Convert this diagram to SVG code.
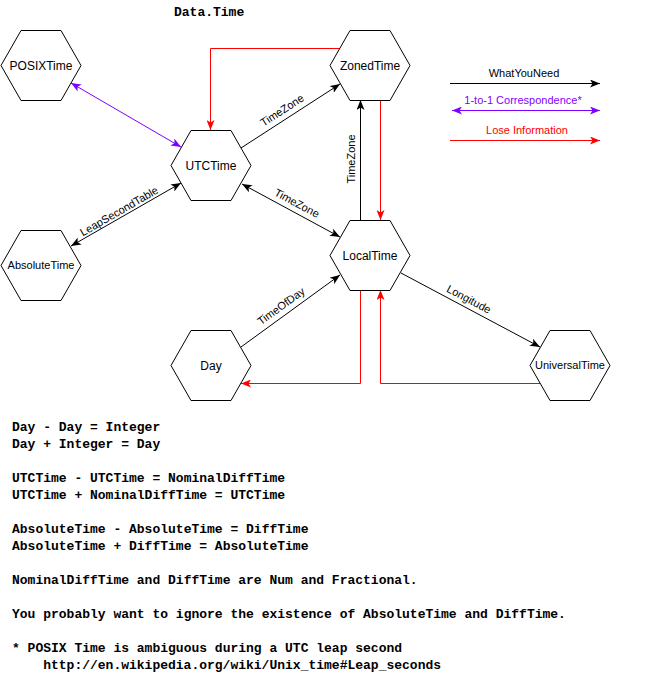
<svg xmlns="http://www.w3.org/2000/svg" xmlns:xlink="http://www.w3.org/1999/xlink" width="652" height="684" viewBox="0 0 652 684">
<style>
.hex{fill:#fff;stroke:#000;stroke-width:1}
.lbl{font-family:"Liberation Sans",Arial,sans-serif;font-size:12px;text-anchor:middle;fill:#000}
.lbls{font-family:"Liberation Sans",Arial,sans-serif;font-size:11px;text-anchor:middle;fill:#000}
.el{font-family:"Liberation Sans",Arial,sans-serif;font-size:11px;text-anchor:middle;fill:#000}
.k{fill:none;stroke:#000;stroke-width:1}
.p{fill:none;stroke:#7F00FF;stroke-width:1}
.r{fill:none;stroke:#FF0000;stroke-width:1}
.mono{font-family:"Liberation Mono","Courier New",monospace;font-size:13px;font-weight:bold;fill:#000}
</style>
<defs>
<polygon id="hexshape" points="0,35 20,0 60,0 80,35 60,70 20,70"/>
<marker id="ak" viewBox="0 0 10 8" refX="10" refY="4" markerWidth="10" markerHeight="8" markerUnits="userSpaceOnUse" orient="auto-start-reverse"><path d="M0,0 L10,4 L0,8 L2.5,4 Z" fill="#000"/></marker>
<marker id="ap" viewBox="0 0 10 8" refX="10" refY="4" markerWidth="10" markerHeight="8" markerUnits="userSpaceOnUse" orient="auto-start-reverse"><path d="M0,0 L10,4 L0,8 L2.5,4 Z" fill="#7F00FF"/></marker>
<marker id="ar" viewBox="0 0 10 8" refX="10" refY="4" markerWidth="10" markerHeight="8" markerUnits="userSpaceOnUse" orient="auto-start-reverse"><path d="M0,0 L10,4 L0,8 L2.5,4 Z" fill="#FF0000"/></marker>
</defs>
<rect width="652" height="684" fill="#fff"/>
<text class="mono" x="174" y="16">Data.Time</text>

<g id="connectors">
<line class="p" x1="71" y1="83" x2="181" y2="147" marker-start="url(#ap)" marker-end="url(#ap)"/>
<line class="k" x1="241" y1="148" x2="340" y2="84" marker-end="url(#ak)"/>
<path class="r" d="M340,48.5 H210.5 V130" marker-end="url(#ar)"/>
<line class="k" x1="360.5" y1="220" x2="360.5" y2="100" marker-end="url(#ak)"/>
<line class="r" x1="380.5" y1="100" x2="380.5" y2="220" marker-end="url(#ar)"/>
<line class="k" x1="242" y1="184" x2="340" y2="237" marker-start="url(#ak)" marker-end="url(#ak)"/>
<line class="k" x1="71" y1="246" x2="181" y2="183" marker-start="url(#ak)" marker-end="url(#ak)"/>
<line class="k" x1="241" y1="347" x2="340" y2="275" marker-end="url(#ak)"/>
<line class="k" x1="401" y1="273" x2="540" y2="347" marker-end="url(#ak)"/>
<path class="r" d="M360.5,290 V383.5 H241" marker-end="url(#ar)"/>
<path class="r" d="M540,383.5 H380.5 V290" marker-end="url(#ar)"/>
<text class="el" transform="translate(282,110) rotate(-33)" y="4">TimeZone</text>
<text class="el" transform="translate(351,159) rotate(-90)" y="4">TimeZone</text>
<text class="el" transform="translate(297,203) rotate(28)" y="4">TimeZone</text>
<text class="el" transform="translate(119,211) rotate(-30)" y="4">LeapSecondTable</text>
<text class="el" transform="translate(281,306) rotate(-36)" y="4">TimeOfDay</text>
<text class="el" transform="translate(469,299) rotate(28)" y="4">Longitude</text>
</g>

<g id="POSIXTime"><use xlink:href="#hexshape" class="hex" x="1" y="30.5"/><text class="lbl" x="41" y="69.5">POSIXTime</text></g>
<g id="ZonedTime"><use xlink:href="#hexshape" class="hex" x="330" y="30.5"/><text class="lbl" x="370" y="69.5">ZonedTime</text></g>
<g id="UTCTime"><use xlink:href="#hexshape" class="hex" x="171" y="130.5"/><text class="lbl" x="211" y="169.5">UTCTime</text></g>
<g id="AbsoluteTime"><use xlink:href="#hexshape" class="hex" x="1" y="230.5"/><text class="lbls" x="41" y="269">AbsoluteTime</text></g>
<g id="LocalTime"><use xlink:href="#hexshape" class="hex" x="330" y="220.5"/><text class="lbl" x="370" y="259.5">LocalTime</text></g>
<g id="Day"><use xlink:href="#hexshape" class="hex" x="171" y="330.5"/><text class="lbl" x="211" y="369.5">Day</text></g>
<g id="UniversalTime"><use xlink:href="#hexshape" class="hex" x="530" y="330.5"/><text class="lbls" x="570" y="369">UniversalTime</text></g>

<g id="legend">
<text class="el" x="524" y="77">WhatYouNeed</text>
<line class="k" x1="450" y1="83.5" x2="600" y2="83.5" marker-end="url(#ak)"/>
<text class="el" x="523" y="104" fill="#7F00FF" style="fill:#7F00FF">1-to-1 Correspondence*</text>
<line class="p" x1="452" y1="110.5" x2="600" y2="110.5" marker-start="url(#ap)" marker-end="url(#ap)"/>
<text class="el" x="527" y="134" style="fill:#FF0000">Lose Information</text>
<line class="r" x1="450" y1="140.5" x2="600" y2="140.5" marker-end="url(#ar)"/>
</g>

<g id="notes">
<text class="mono" x="12" y="431">Day - Day = Integer</text>
<text class="mono" x="12" y="448">Day + Integer = Day</text>
<text class="mono" x="12" y="482">UTCTime - UTCTime = NominalDiffTime</text>
<text class="mono" x="12" y="499">UTCTime + NominalDiffTime = UTCTime</text>
<text class="mono" x="12" y="533">AbsoluteTime - AbsoluteTime = DiffTime</text>
<text class="mono" x="12" y="550">AbsoluteTime + DiffTime = AbsoluteTime</text>
<text class="mono" x="12" y="584">NominalDiffTime and DiffTime are Num and Fractional.</text>
<text class="mono" x="12" y="618">You probably want to ignore the existence of AbsoluteTime and DiffTime.</text>
<text class="mono" x="12" y="652">* POSIX Time is ambiguous during a UTC leap second</text>
<text class="mono" x="43.2" y="669">http://en.wikipedia.org/wiki/Unix_time#Leap_seconds</text>
</g>
</svg>
